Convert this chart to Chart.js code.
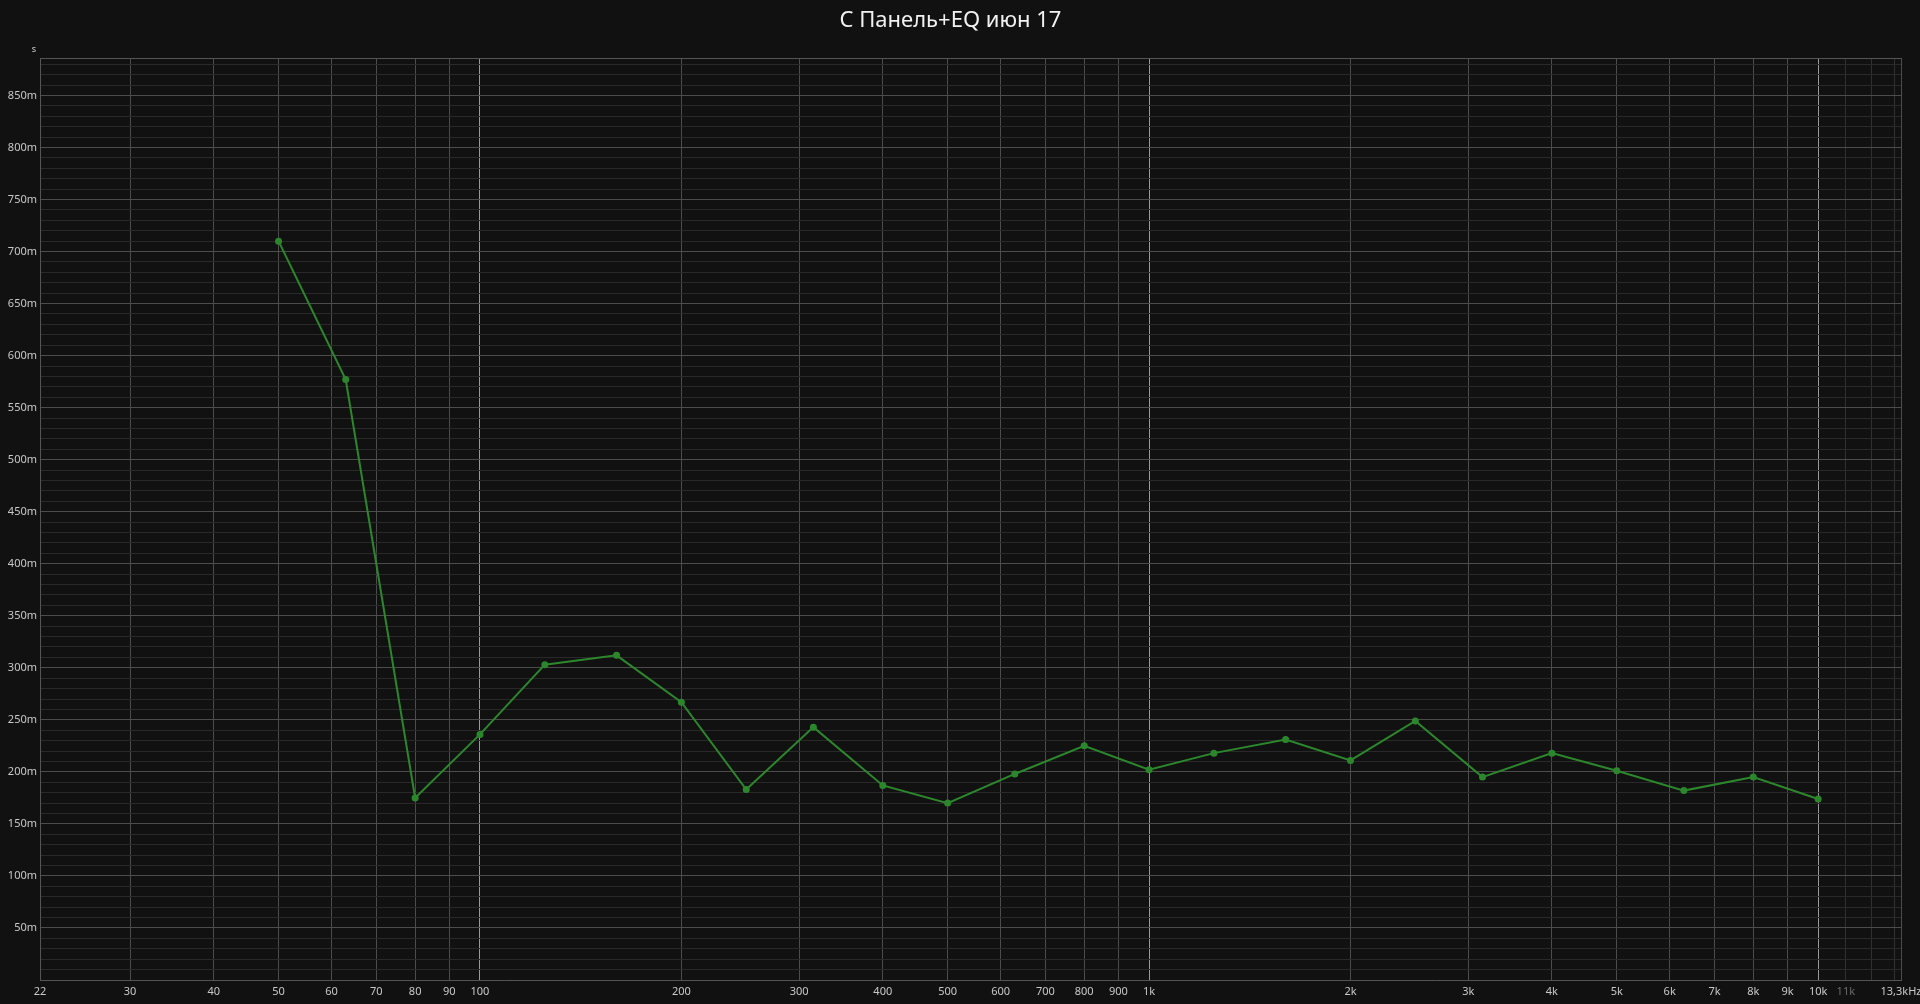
<!DOCTYPE html>
<html lang="ru">
<head>
    <meta charset="UTF-8">
    <title>C Панель+EQ июн 17</title>
    <script src="https://cdn.jsdelivr.net/npm/chart.js"></script>
    <style>
        html, body { margin: 0; padding: 0; background: #111111; }
        #wrap { width: 1920px; height: 1004px; }
        canvas { display: block; background: #111111; }
    </style>
</head>
<body>
    <div id="wrap"><canvas id="rt" width="1920" height="1004"></canvas></div>

    <script>
        // third-octave bands, Hz
        const freqs = [50, 63, 80, 100, 125, 160, 200, 250, 315, 400, 500, 630,
                       800, 1000, 1250, 1600, 2000, 2500, 3150, 4000, 5000, 6300, 8000, 10000];
        // reverberation time, s
        const rtValues = [0.710, 0.577, 0.175, 0.236, 0.303, 0.312, 0.267, 0.183, 0.243, 0.187, 0.170, 0.198,
                          0.225, 0.202, 0.218, 0.231, 0.211, 0.249, 0.195, 0.218, 0.201, 0.182, 0.195, 0.174];

        const xTickValues = [22, 30, 40, 50, 60, 70, 80, 90, 100, 200, 300, 400, 500, 600, 700, 800, 900,
                             1000, 2000, 3000, 4000, 5000, 6000, 7000, 8000, 9000, 10000, 11000, 12000, 13000, 13300];
        const xTickLabels = ['22', '30', '40', '50', '60', '70', '80', '90', '100', '200', '300', '400', '500', '600', '700', '800', '900',
                             '1k', '2k', '3k', '4k', '5k', '6k', '7k', '8k', '9k', '10k', '11k', '', '', '13,3kHz'];

        const yTickValues = [0.05, 0.10, 0.15, 0.20, 0.25, 0.30, 0.35, 0.40, 0.45, 0.50, 0.55, 0.60, 0.65, 0.70, 0.75, 0.80, 0.85];
        const yTickLabels = ['50m', '100m', '150m', '200m', '250m', '300m', '350m', '400m', '450m', '500m', '550m', '600m',
                             '650m', '700m', '750m', '800m', '850m'];

        const xMin = 22, xMax = 13300;
        const yMin = 0, yMax = 0.886;

        function xLabel(v) {
            const i = xTickValues.indexOf(v);
            return i >= 0 ? xTickLabels[i] : '';
        }
        function yLabel(v) {
            const i = yTickValues.findIndex(t => Math.abs(t - v) < 1e-6);
            return i >= 0 ? yTickLabels[i] : '';
        }

        const unitLabel = {
            id: 'unitLabel',
            afterDraw(chart) {
                const ctx = chart.ctx;
                ctx.save();
                ctx.fillStyle = '#cfcfcf';
                ctx.font = '9px "Noto Sans", sans-serif';
                ctx.textAlign = 'center';
                ctx.textBaseline = 'middle';
                ctx.fillText('s', 34, 49);
                ctx.restore();
            }
        };

        const font = { family: '"Noto Sans", "Open Sans", sans-serif', size: 11 };

        new Chart(document.getElementById('rt'), {
            type: 'line',
            data: {
                datasets: [{
                    label: 'C Панель+EQ июн 17',
                    data: freqs.map((f, i) => ({ x: f, y: rtValues[i] })),
                    borderColor: '#2c872c',
                    backgroundColor: '#2c872c',
                    borderWidth: 2,
                    pointRadius: 2.5,
                    pointHoverRadius: 3,
                    tension: 0
                }]
            },
            options: {
                responsive: false,
                animation: false,
                layout: { padding: { left: 0, right: 19, top: 0, bottom: 0 } },
                plugins: {
                    legend: { display: false },
                    tooltip: { enabled: false },
                    title: {
                        display: true,
                        text: 'C Панель+EQ июн 17',
                        color: '#f2f2f2',
                        font: { family: '"Noto Sans", "Open Sans", sans-serif', size: 22, weight: 'normal' },
                        padding: { top: 8, bottom: 23.6 }
                    }
                },
                scales: {
                    x: {
                        type: 'logarithmic',
                        min: xMin,
                        max: xMax,
                        afterBuildTicks: scale => { scale.ticks = xTickValues.map(v => ({ value: v })); },
                        afterFit: scale => { scale.height = 24; scale.paddingLeft = 0; scale.paddingRight = 0; },
                        border: { display: true, color: '#555555', width: 1 },
                        grid: {
                            drawTicks: false,
                            color: ctx => {
                                const v = ctx.tick && ctx.tick.value;
                                if (v === 100 || v === 1000 || v === 10000) return '#999999';
                                if (v === 11000 || v === 12000 || v === 13000) return '#303030';
                                return '#4c4c4c';
                            }
                        },
                        ticks: {
                            autoSkip: false,
                            maxRotation: 0,
                            padding: 5,
                            font: font,
                            color: ctx => (ctx.tick && ctx.tick.value === 11000) ? '#6a6a6a' : '#c8c8c8',
                            callback: v => xLabel(v)
                        }
                    },
                    y: {
                        min: yMin,
                        max: yMax,
                        afterBuildTicks: scale => {
                            const t = [];
                            for (let i = 0; i <= 88; i++) t.push({ value: i / 100 });
                            t.push({ value: yMax });
                            scale.ticks = t;
                        },
                        afterFit: scale => { scale.width = 40; scale.paddingTop = 0; scale.paddingBottom = 0; },
                        border: { display: true, color: '#555555', width: 1 },
                        grid: {
                            drawTicks: false,
                            color: ctx => {
                                const v = ctx.tick && ctx.tick.value;
                                if (v === yMax) return '#555555';
                                return yLabel(v) ? '#4c4c4c' : '#292929';
                            }
                        },
                        ticks: {
                            autoSkip: false,
                            padding: 3,
                            font: font,
                            color: '#c8c8c8',
                            callback: v => yLabel(v)
                        }
                    }
                }
            },
            plugins: [unitLabel]
        });
    </script>
</body>
</html>
